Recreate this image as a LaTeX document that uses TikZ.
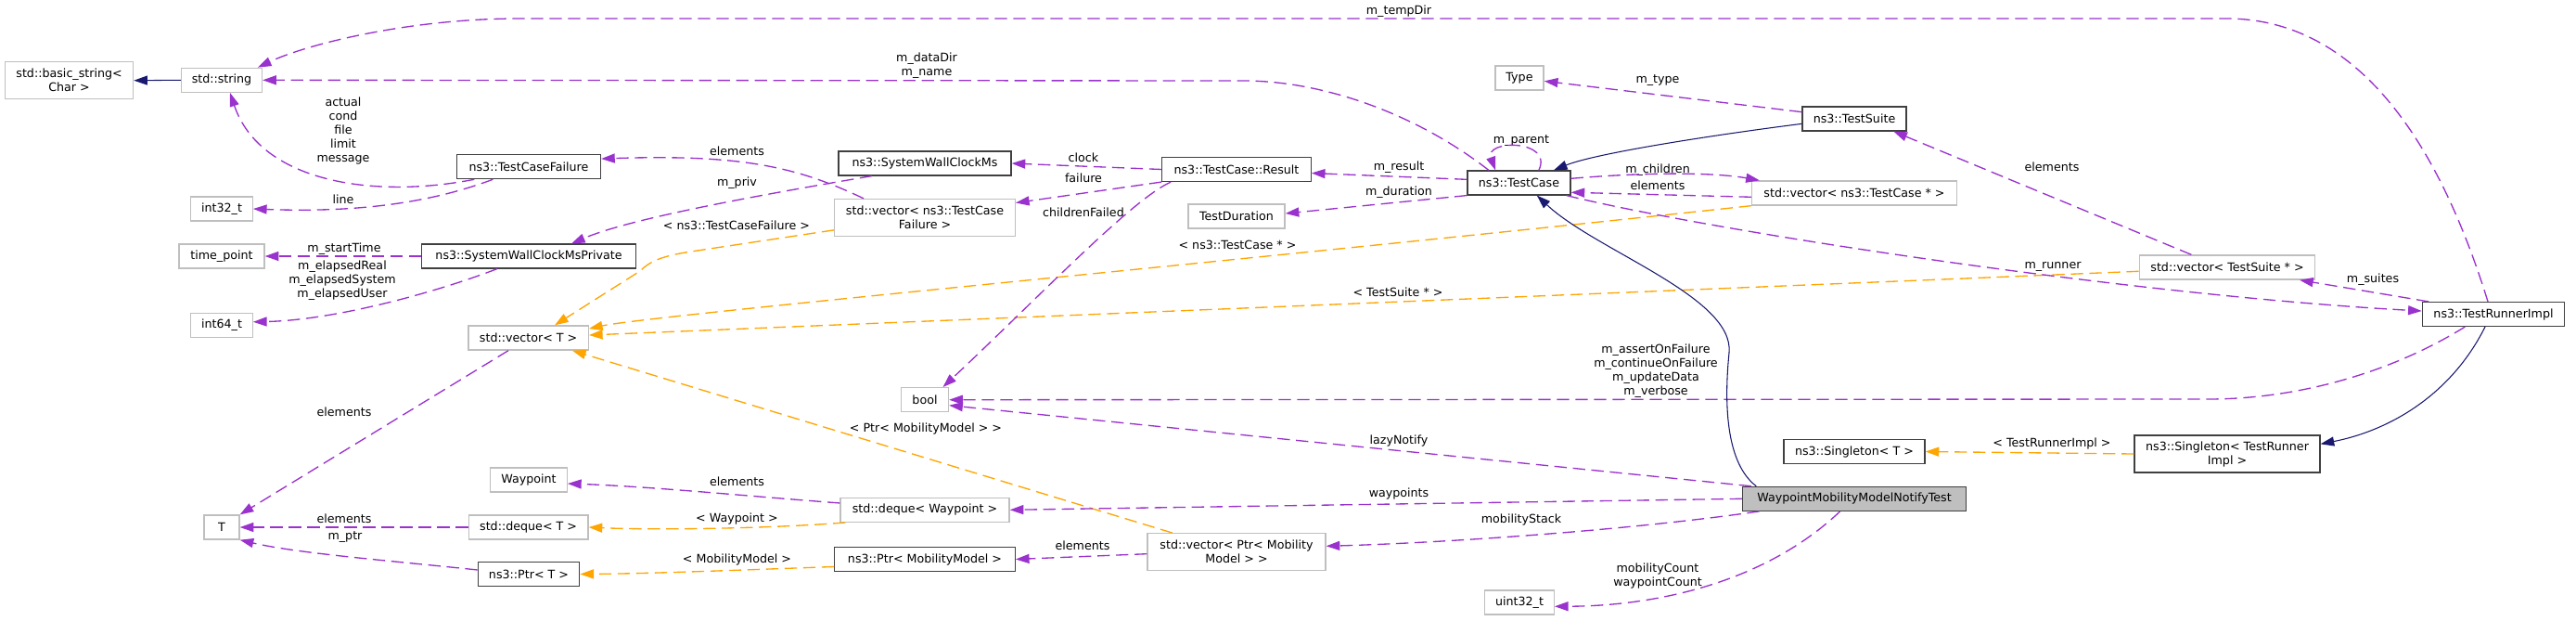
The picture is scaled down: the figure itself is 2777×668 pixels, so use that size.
\documentclass[tikz,border=0pt]{standalone}
\usepackage{fontspec}
\setmainfont{DejaVu Sans}
\usepackage{tikz}
\usetikzlibrary{arrows.meta}
\definecolor{purple}{HTML}{9A32CD}
\definecolor{orange}{HTML}{FFA500}
\definecolor{midnight}{HTML}{191970}
\definecolor{grey75}{HTML}{BFBFBF}
\definecolor{grey25}{HTML}{404040}

\begin{document}
\begin{tikzpicture}[x=0.75pt,y=-0.75pt,font=\fontsize{9.5}{11.25}\selectfont]
\tikzset{doc/.style={draw=grey25,line width=0.85pt,fill=white,minimum height=19.5pt,inner xsep=2pt,inner ysep=1pt,align=center}, ext/.style={doc,draw=grey75,line width=1pt}, two/.style={minimum height=30pt}, mem/.style={-{Triangle[length=11pt,width=7.5pt]},purple,line width=1pt,dash pattern=on 10pt off 5pt}, tpl/.style={mem,orange}, inh/.style={-{Triangle[length=11pt,width=7.5pt]},midnight,line width=0.8pt}, lbl/.style={inner sep=0pt,align=center}}
\path[use as bounding box] (0,0) rectangle (2777,668);
\node[ext,two,minimum width=103.5pt] (bstr) at (74.6,86.7) {std::basic\_string<\\Char >};
\node[ext,minimum width=65.25pt] (str) at (239,86.3) {std::string};
\node[doc,minimum width=116.25pt] (tcf) at (570,179.7) {ns3::TestCaseFailure};
\node[ext,minimum width=49.9pt] (i32) at (239,225) {int32\_t};
\node[ext,minimum width=69pt] (tp) at (239,276) {time\_point};
\node[doc,minimum width=173.25pt] (swp) at (570,276) {ns3::SystemWallClockMsPrivate};
\node[ext,minimum width=49.9pt] (i64) at (239,350.5) {int64\_t};
\node[ext,minimum width=97pt] (vt) at (569.6,364) {std::vector< T >};
\node[ext,minimum width=62pt] (wp) at (570,517) {Waypoint};
\node[ext,minimum width=28.5pt] (t) at (239,568) {T};
\node[ext,minimum width=96.5pt] (dqt) at (569.6,568) {std::deque< T >};
\node[doc,minimum width=82.2pt] (ptrt) at (570,618.5) {ns3::Ptr< T >};
\node[doc,minimum width=139.5pt] (swc) at (997,176) {ns3::SystemWallClockMs};
\node[ext,two,minimum width=145.9pt] (vtcf) at (997,234.5) {std::vector< ns3::TestCase\\Failure >};
\node[doc,minimum width=120.4pt] (res) at (1333,182.5) {ns3::TestCase::Result};
\node[ext,minimum width=78pt] (tdur) at (1333,233) {TestDuration};
\node[ext,minimum width=38.25pt] (bool) at (997,430.7) {bool};
\node[ext,minimum width=136.5pt] (dqw) at (997,549.3) {std::deque< Waypoint >};
\node[doc,minimum width=146pt] (pmm) at (997,602.5) {ns3::Ptr< MobilityModel >};
\node[ext,two,minimum width=144pt] (vpmm) at (1333,594.7) {std::vector< Ptr< Mobility\\Model > >};
\node[ext,minimum width=39.2pt] (type) at (1638,84) {Type};
\node[doc,minimum width=84pt] (tsuite) at (1999,128) {ns3::TestSuite};
\node[doc,minimum width=83.25pt] (tcase) at (1637.5,197) {ns3::TestCase};
\node[ext,minimum width=165.75pt] (vtc) at (1999,208) {std::vector< ns3::TestCase * >};
\node[doc,minimum width=114pt] (sgt) at (1999,486.5) {ns3::Singleton< T >};
\node[doc,fill=grey75,minimum width=180.75pt] (wmm) at (1999,537.3) {WaypointMobilityModelNotifyTest};
\node[ext,minimum width=55.9pt] (u32) at (1638,649) {uint32\_t};
\node[ext,minimum width=142pt] (vts) at (2401,288) {std::vector< TestSuite * >};
\node[doc,minimum width=115.1pt] (tri) at (2688,338.5) {ns3::TestRunnerImpl};
\node[doc,two,minimum width=150pt] (sgtri) at (2401,489) {ns3::Singleton< TestRunner\\Impl >};
\node[lbl] (ltmp) at (1508,12) {m\_tempDir};
\node[lbl] (ldata) at (999,71) {m\_dataDir\\m\_name};
\node[lbl] (lfail) at (370,141) {actual\\cond\\file\\limit\\message};
\node[lbl] (lline) at (370,215) {line};
\node[lbl] (lelem1) at (794.5,163) {elements};
\node[lbl] (lpriv) at (794.5,197) {m\_priv};
\node[lbl] (lstart) at (371,268) {m\_startTime};
\node[lbl] (lelap) at (369,302) {m\_elapsedReal\\m\_elapsedSystem\\m\_elapsedUser};
\node[lbl] (ltcf) at (794,243) {< ns3::TestCaseFailure >};
\node[lbl] (lclock) at (1168,170) {clock};
\node[lbl] (lfailure) at (1168,192) {failure};
\node[lbl] (lchild) at (1168,229) {childrenFailed};
\node[lbl] (ltcp) at (1334,264) {< ns3::TestCase * >};
\node[lbl] (lres) at (1508,180) {m\_result};
\node[lbl] (ldur) at (1508,207) {m\_duration};
\node[lbl] (lpar) at (1640,152) {m\_parent};
\node[lbl] (ltype) at (1787,87) {m\_type};
\node[lbl] (lkids) at (1787,183) {m\_children};
\node[lbl] (lelem2) at (1787,200) {elements};
\node[lbl] (lelem3) at (2212,180) {elements};
\node[lbl] (lrun) at (2213,287) {m\_runner};
\node[lbl] (lsuites) at (2558,301) {m\_suites};
\node[lbl] (ltsp) at (1507,315) {< TestSuite * >};
\node[lbl] (lflags) at (1785,400) {m\_assertOnFailure\\m\_continueOnFailure\\m\_updateData\\m\_verbose};
\node[lbl] (lpmm) at (998,462) {< Ptr< MobilityModel > >};
\node[lbl] (llazy) at (1508,475) {lazyNotify};
\node[lbl] (ltri) at (2212,478) {< TestRunnerImpl >};
\node[lbl] (lelem4) at (371,444) {elements};
\node[lbl] (lelem5) at (794.5,519) {elements};
\node[lbl] (lwp) at (1508,532) {waypoints};
\node[lbl] (lwpt) at (794.5,559) {< Waypoint >};
\node[lbl] (lelem6) at (371,559) {elements};
\node[lbl] (lstack) at (1640,560) {mobilityStack};
\node[lbl] (lptr) at (372,579) {m\_ptr};
\node[lbl] (lelem7) at (1167,588) {elements};
\node[lbl] (lmm) at (794.5,603) {< MobilityModel >};
\node[lbl] (lcount) at (1787,620) {mobilityCount\\waypointCount};
\draw[inh] (str.west) -- (bstr.east);
\draw[mem] ([xshift=-4.5pt]tri.north) .. controls (2640,190) and (2560,20) .. (2400,20) -- (560,20) .. controls (440,20) and (330,48) .. ([xshift=-4pt]str.north east);
\draw[mem] ([xshift=-24.4pt]tcase.north) .. controls (1530,125) and (1430,87) .. (1340,87) -- (str.east);
\draw[mem] ([xshift=-44pt]tcf.south) .. controls (400,215) and (280,195) .. ([xshift=6.75pt]str.south);
\draw[mem] ([xshift=-29pt]tcf.south) .. controls (460,220) and (380,229) .. (i32.east);
\draw[mem] ([xshift=-49.5pt]vtcf.north) .. controls (860,180) and (800,166) .. ([yshift=6.5pt]tcf.east);
\draw[mem] ([xshift=-42.75pt]swc.south) .. controls (820,210) and (680,235) .. ([xshift=34.5pt]swp.north);
\draw[mem] (swp.west) -- (tp.east);
\draw[mem] ([xshift=-25.5pt]swp.south) .. controls (470,315) and (360,345) .. ([yshift=2.8pt]i64.east);
\draw[tpl] ([yshift=-10pt]vtcf.west) -- (745,271) .. controls (712,276) and (700,282) .. (690,292) -- ([xshift=21.3pt]vt.north);
\draw[tpl] (vtc.south west) .. controls (1300,285) and (700,340) .. ([yshift=-2.8pt]vt.north east);
\draw[tpl] ([yshift=-3.2pt]vts.west) -- ([yshift=2.25pt]vt.east);
\draw[tpl] ([xshift=-52pt]vpmm.north) -- ([xshift=-13.5pt]vt.south east);
\draw[mem] ([xshift=-16.2pt]vt.south) -- (t.north east);
\draw[mem] (dqt.west) -- (t.east);
\draw[mem] ([yshift=3.4pt]ptrt.west) .. controls (420,604) and (320,596) .. (t.south east);
\draw[tpl] ([xshift=4.5pt]dqw.south west) .. controls (820,570) and (700,571) .. (dqt.east);
\draw[mem] ([yshift=5.5pt]dqw.west) .. controls (800,534) and (700,524) .. ([yshift=-3pt]wp.east);
\draw[tpl] ([yshift=-6pt]pmm.west) .. controls (800,614) and (700,618) .. (ptrt.east);
\draw[mem] ([yshift=-1.5pt]vpmm.west) -- (pmm.east);
\draw[mem] (res.west) -- (swc.east);
\draw[mem] (res.south west) -- ([yshift=12pt]vtcf.east);
\draw[mem] ([xshift=7.5pt]res.south west) .. controls (1220,215) and (1120,320) .. ([xshift=-5pt]bool.north east);
\draw[mem] ([yshift=2.75pt]tcase.west) -- ([yshift=-3pt]res.east);
\draw[mem] (tcase.south west) -- ([yshift=2.25pt]tdur.east);
\draw[mem] ([yshift=5.5pt]tsuite.west) -- ([yshift=-2.5pt]type.east);
\draw[inh] ([yshift=-4pt]tsuite.west) .. controls (1850,145) and (1720,165) .. ([xshift=-14pt]tcase.north east);
\draw[mem] ([xshift=16pt]tcase.north) .. controls (1675,150) and (1600,150) .. ([xshift=-19pt]tcase.north);
\draw[mem] ([yshift=3.5pt]tcase.east) .. controls (1780,185) and (1850,186) .. ([xshift=6.75pt]vtc.north west);
\draw[mem] ([yshift=-3.2pt]vtc.west) -- ([yshift=-7.7pt]tcase.east);
\draw[mem] ([xshift=-3.75pt]tcase.south east) .. controls (1850,250) and (2300,318) .. ([yshift=2.6pt]tri.west);
\draw[mem] ([xshift=-29pt]vts.north) -- ([xshift=-10.7pt]tsuite.south east);
\draw[mem] ([xshift=5.6pt]tri.north west) -- ([xshift=-13pt]vts.south east);
\draw[mem] ([xshift=-23pt]tri.south) .. controls (2580,400) and (2480,430) .. (2380,430) -- (bool.east);
\draw[inh] ([xshift=-6.75pt]tri.south) .. controls (2640,430) and (2570,465) .. ([yshift=8pt]sgtri.east);
\draw[tpl] (sgtri.west) -- (sgt.east);
\draw[inh] ([xshift=11.5pt]wmm.north west) .. controls (1862,500) and (1858,440) .. (1864,380) .. controls (1870,320) and (1720,270) .. ([xshift=14.5pt]tcase.south);
\draw[mem] ([xshift=7.5pt]wmm.north west) -- ([yshift=-4.5pt]bool.east);
\draw[mem] (wmm.west) -- (dqw.east);
\draw[mem] ([xshift=14pt]wmm.south west) .. controls (1750,572) and (1550,585) .. ([yshift=4.8pt]vpmm.east);
\draw[mem] ([xshift=-11.5pt]wmm.south) .. controls (1900,630) and (1780,653) .. ([yshift=-3.2pt]u32.east);
\end{tikzpicture}
\end{document}
